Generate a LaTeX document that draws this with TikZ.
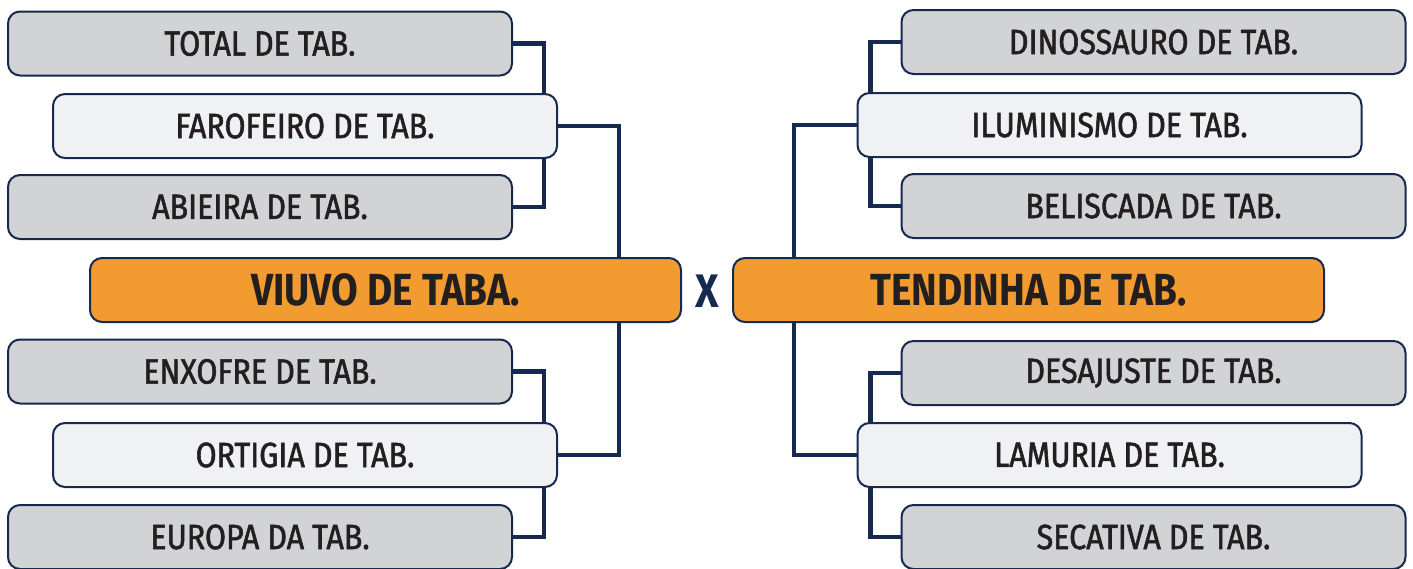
\documentclass[tikz,border=0pt]{standalone}
\usepackage{fontspec}
\setmainfont{Fira Sans}[FakeStretch=0.86]
\newfontfamily\labfont{Fira Sans}[FakeStretch=0.87, FakeBold=1.6]
\usetikzlibrary{calc}
\definecolor{navy}{HTML}{17294F}
\definecolor{boxgray}{HTML}{D1D3D5}
\definecolor{boxlight}{HTML}{F0F1F3}
\definecolor{boxorange}{HTML}{F29B30}
\definecolor{txt}{HTML}{231F20}
\tikzset{
  base/.style={draw=navy, line width=2pt, rounded corners=12pt, inner sep=0pt,
    minimum height=64pt, text=txt, font=\labfont\fontsize{35}{40}\selectfont},
  graybox/.style={base, fill=boxgray, minimum width=504pt},
  lightbox/.style={base, fill=boxlight, minimum width=504pt},
  finalbox/.style={base, fill=boxorange, minimum width=591pt,
    font=\normalfont\fontsize{45}{50}\selectfont\bfseries},
  link/.style={draw=navy, line width=4.5pt}
}
\begin{document}
\begin{tikzpicture}[x=1pt,y=-1pt]
\useasboundingbox (0,0) rectangle (1413,568);
% left
\node[graybox]  (t)  at (260,43.5)  {TOTAL DE TAB.};
\node[lightbox] (f)  at (305,126)   {FAROFEIRO DE TAB.};
\node[graybox]  (a)  at (260,207)   {ABIEIRA DE TAB.};
\node[graybox]  (e)  at (260,371.5) {ENXOFRE DE TAB.};
\node[lightbox] (o)  at (305,455)   {ORTIGIA DE TAB.};
\node[graybox]  (eu) at (260,537)   {EUROPA DA TAB.};
\node[finalbox] (vl) at (385.5,290) {VIUVO DE TABA.};
% right
\node[graybox]  (d)  at (1153.5,42) {DINOSSAURO DE TAB.};
\node[lightbox] (il) at (1109.5,125){ILUMINISMO DE TAB.};
\node[graybox]  (b)  at (1153.5,206){BELISCADA DE TAB.};
\node[graybox]  (de) at (1153.5,373){DESAJUSTE DE TAB.};
\node[lightbox] (l)  at (1109.5,455){LAMURIA DE TAB.};
\node[graybox]  (s)  at (1153.5,537){SECATIVA DE TAB.};
\node[finalbox] (vr) at (1028.5,290){TENDINHA DE TAB.};
\node[text=navy, font=\normalfont\fontsize{47}{50}\selectfont\bfseries, inner sep=0pt] (x) at (707,291) {X};
% connectors left
\draw[link] (t.east) -| ($(f.north east)+(-14,0)$);
\draw[link] (a.east) -| ($(f.south east)+(-14,0)$);
\draw[link] (f.east) -| ($(vl.north west)+(530,0)$);
\draw[link] (e.east) -| ($(o.north east)+(-14,0)$);
\draw[link] (eu.east) -| ($(o.south east)+(-14,0)$);
\draw[link] (o.east) -| ($(vl.south west)+(530,0)$);
% connectors right
\draw[link] (d.west) -| ($(il.north west)+(14,0)$);
\draw[link] (b.west) -| ($(il.south west)+(14,0)$);
\draw[link] (il.west) -| ($(vr.north west)+(62,0)$);
\draw[link] (de.west) -| ($(l.north west)+(14,0)$);
\draw[link] (s.west) -| ($(l.south west)+(14,0)$);
\draw[link] (l.west) -| ($(vr.south west)+(62,0)$);
\end{tikzpicture}
\end{document}
